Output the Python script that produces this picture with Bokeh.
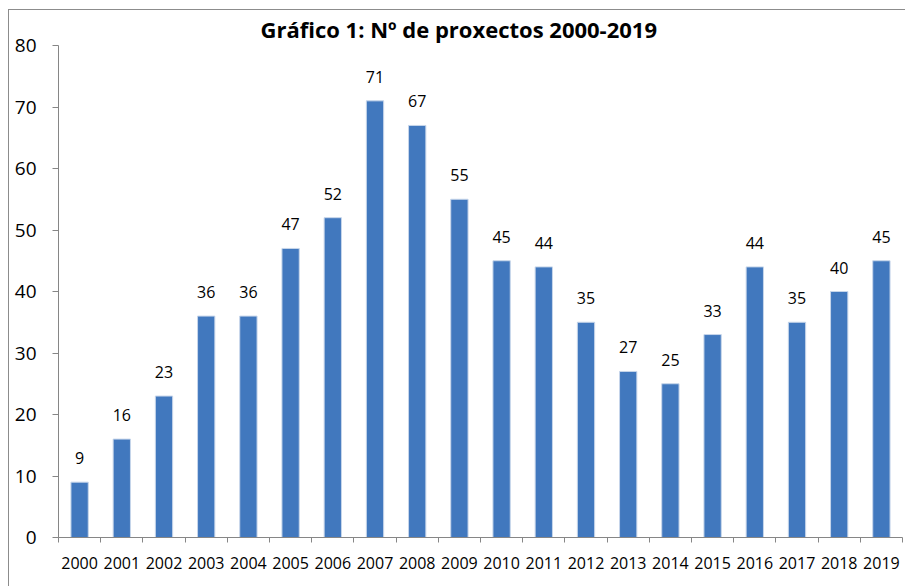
from bokeh.plotting import figure
from bokeh.models import ColumnDataSource, FixedTicker, Range1d
from bokeh.core.properties import value
from bokeh.embed import file_html
from bokeh.resources import INLINE

years = ["2000", "2001", "2002", "2003", "2004", "2005", "2006", "2007", "2008", "2009",
         "2010", "2011", "2012", "2013", "2014", "2015", "2016", "2017", "2018", "2019"]
projects = [9, 16, 23, 36, 36, 47, 52, 71, 67, 55, 45, 44, 35, 27, 25, 33, 44, 35, 40, 45]
y_ticks = [0, 10, 20, 30, 40, 50, 60, 70, 80]
title_text = "Gráfico 1: Nº de proxectos 2000-2019"

xs = list(range(1, len(years) + 1))
src = ColumnDataSource(dict(x=xs, top=projects, label=[str(v) for v in projects]))

FONT = "Open Sans"
GRAY = "#868686"

p = figure(width=897, height=577, output_backend="svg", toolbar_location=None,
           x_range=Range1d(0.5, len(years) + 0.5), y_range=Range1d(0, 80),
           title=title_text)
p.min_border_left = 49
p.min_border_right = 4
p.min_border_top = 33
p.min_border_bottom = 50
p.margin = (9, 0, 0, 8)
p.styles = {"border-top": "1px solid #8c8c8c", "border-left": "1px solid #8c8c8c"}

p.title.text_font = FONT
p.title.text_font_size = "22px"
p.title.text_font_style = "bold"
p.title.align = "left"
p.title.offset = 202
p.title.standoff = 3
p.title.text_color = "black"

p.outline_line_color = None
p.xgrid.grid_line_color = None
p.ygrid.grid_line_color = None
p.background_fill_color = "white"
p.border_fill_color = "white"

p.vbar(x="x", top="top", width=0.41, source=src, fill_color="#4178be",
       line_color="#c7d6ea", line_width=1)
p.text(x="x", y="top", text="label", source=src, text_align="center",
       text_baseline="alphabetic", y_offset=-24, text_font=value(FONT),
       text_font_size="16px", text_color="black")

# x axis: labels at centers, ticks at boundaries
xt = FixedTicker(ticks=xs, minor_ticks=[i + 0.5 for i in range(0, len(years) + 1)])
p.xaxis.ticker = xt
p.xaxis.major_label_overrides = {x: y for x, y in zip(xs, years)}
p.xaxis.major_tick_line_color = None
p.xaxis.minor_tick_line_color = GRAY
p.xaxis.minor_tick_in = 0
p.xaxis.minor_tick_out = 5
p.xaxis.axis_line_color = GRAY
p.xaxis.major_label_text_font = FONT
p.xaxis.major_label_text_font_size = "16px"
p.xaxis.major_label_text_color = "black"
p.xaxis.major_label_standoff = 13

p.yaxis.ticker = FixedTicker(ticks=y_ticks, minor_ticks=[])
p.yaxis.axis_line_color = GRAY
p.yaxis.major_tick_line_color = GRAY
p.yaxis.major_tick_in = 0
p.yaxis.major_tick_out = 6
p.yaxis.minor_tick_line_color = None
p.yaxis.major_label_text_font = FONT
p.yaxis.major_label_text_font_size = "19px"
p.yaxis.major_label_text_color = "black"
p.yaxis.major_label_standoff = 16

open("out.html", "w").write(file_html(p, INLINE))
